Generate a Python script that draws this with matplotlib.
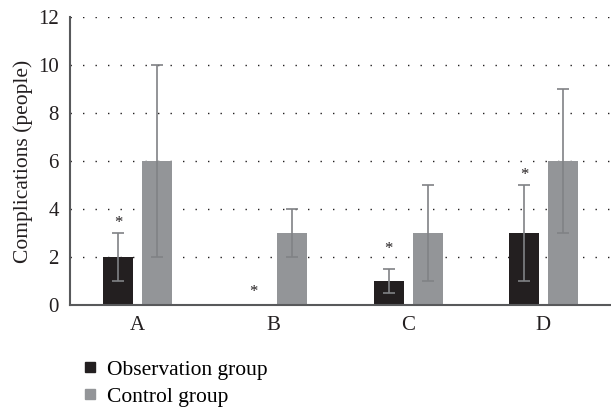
import numpy as np
import matplotlib.pyplot as plt
from matplotlib.lines import Line2D

plt.rcParams.update({
    'font.family': 'serif',
    'font.serif': ['Liberation Serif', 'DejaVu Serif'],
    'font.size': 15
})

# group data
categories = ['A', 'B', 'C', 'D']
obs_values = [2, 0, 1, 3]
obs_low = [1, 0, 0.5, 1]
obs_high = [3, 0, 1.5, 5]
ctrl_values = [6, 3, 3, 6]
ctrl_low = [2, 2, 1, 3]
ctrl_high = [10, 4, 5, 9]
star_y = [3.4, 0.55, 2.35, 5.4]

obs_color = '#231f20'
ctrl_color = '#939598'
err_color = '#808285'

x = np.arange(len(categories))
w = 0.222
off = 0.144

fig = plt.figure(figsize=(6.11, 4.09), dpi=100)
ax = fig.add_axes([0.1146, 0.2543, 0.8854, 0.7042])

ax.bar(x - off, obs_values, w, color=obs_color, zorder=2)
ax.bar(x + off, ctrl_values, w, color=ctrl_color, zorder=2)

obs_err = [np.array(obs_values) - np.array(obs_low), np.array(obs_high) - np.array(obs_values)]
ctrl_err = [np.array(ctrl_values) - np.array(ctrl_low), np.array(ctrl_high) - np.array(ctrl_values)]
mask = np.array(obs_high) > 0
ax.errorbar((x - off)[mask], np.array(obs_values)[mask],
            yerr=[obs_err[0][mask], obs_err[1][mask]],
            fmt='none', ecolor=err_color, elinewidth=1.2, capsize=4, capthick=1.2, zorder=3)
ax.errorbar(x + off, ctrl_values, yerr=ctrl_err,
            fmt='none', ecolor=err_color, elinewidth=1.2, capsize=4, capthick=1.2, zorder=3)

for xi, yi in zip(x - off, star_y):
    ax.text(xi, yi, '*', ha='center', va='center', fontsize=12, color='#231f20')

ax.set_xlim(-0.5, 3.5)
ax.set_ylim(0, 12)
ax.set_yticks(range(0, 13, 2))
ax.set_xticks(x)
ax.set_xticklabels(categories)
ax.yaxis.grid(True, linestyle=(0, (1, 8)), color='#231f20', linewidth=1.0, zorder=0)
ax.set_axisbelow(True)
ax.tick_params(length=0, pad=8, labelsize=15, colors='#231f20')
ax.tick_params(axis='x', pad=8)
for s in ['top', 'right']:
    ax.spines[s].set_visible(False)
for s in ['left', 'bottom']:
    ax.spines[s].set_color('#58595b')
    ax.spines[s].set_linewidth(1.5)
ax.set_ylabel('Complications (people)', fontsize=15.5, color='#231f20', labelpad=4)

handles = [Line2D([], [], marker='s', linestyle='none', markersize=7, color=obs_color),
           Line2D([], [], marker='s', linestyle='none', markersize=7, color=ctrl_color)]
fig.legend(handles, ['Observation group', 'Control group'], loc='upper left',
           bbox_to_anchor=(0.115, 0.141), frameon=False, fontsize=15.5,
           handletextpad=0.3, labelspacing=0.3, handlelength=1.0, borderaxespad=0)

fig.savefig('out.png', dpi=100)
